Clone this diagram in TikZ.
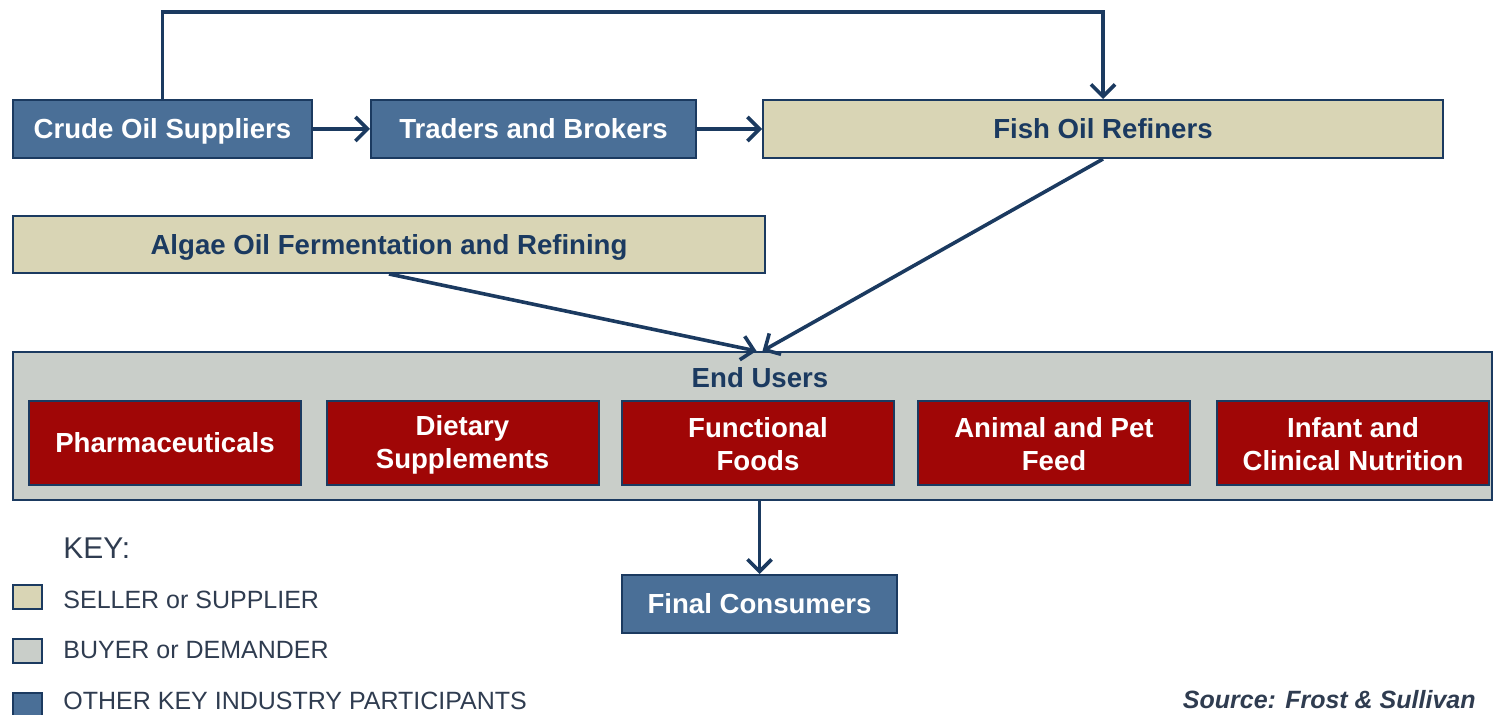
\documentclass[tikz,border=0pt]{standalone}
\usepackage{fontspec}
\setmainfont{Liberation Sans}
\usepackage{tikz}
\usetikzlibrary{arrows.meta}

\definecolor{navy}{HTML}{1B3A60}
\definecolor{steel}{HTML}{4A6F97}
\definecolor{tan}{HTML}{D9D5B5}
\definecolor{greybox}{HTML}{C9CEC9}
\definecolor{wine}{HTML}{A00606}
\definecolor{keytext}{HTML}{2F3C50}

\begin{document}
\begin{tikzpicture}[x=0.5pt,y=-0.5pt]
	\tikzstyle{every node}=[inner sep=0pt, align=center]
	\tikzstyle{box}=[draw=navy, line width=1pt, minimum height=29pt, font=\bfseries\fontsize{13.8}{16.5}\selectfont]
	\tikzstyle{other}=[box, fill=steel, text=white, text height=11.5pt, text depth=1.5pt]
	\tikzstyle{seller}=[box, fill=tan, text=navy, text height=11.5pt, text depth=1.5pt]
	\tikzstyle{user}=[box, fill=wine, text=white, minimum width=136pt, minimum height=42pt]
	\tikzstyle{swatch}=[draw=navy, line width=1pt, minimum width=14.5pt, minimum height=12pt]
	\tikzstyle{keylabel}=[anchor=west, text=keytext, font=\fontsize{12.5}{14}\selectfont]
	\tikzstyle{arr}=[draw=navy, line width=1.8pt, -{Straight Barb[length=6pt,width=12pt]}]
	\useasboundingbox (0,0) rectangle (1495,715);
	% chain on top
	\node (crude) [other, minimum width=149.5pt] at (162.5,129) {Crude Oil Suppliers};
	\node (traders) [other, minimum width=162.5pt] at (533.5,129) {Traders and Brokers};
	\node (fish) [seller, minimum width=340pt] at (1103,129) {Fish Oil Refiners};
	\node (algae) [seller, minimum width=376pt, minimum height=28.5pt] at (389,244.5) {Algae Oil Fermentation and Refining};
	% end users
	\node (endusers) [draw=navy, line width=1pt, fill=greybox, minimum width=739.5pt, minimum height=74pt] at (752.5,426) {};
	\node (eulabel) [text=navy, font=\bfseries\fontsize{13.8}{16.5}\selectfont] at (760,378) {End Users};
	\node (u1) [user] at (165,443) {Pharmaceuticals};
	\node (u2) [user] at (462.5,443) {\strut Dietary\\Supplements};
	\node (u3) [user] at (758,443) {\strut Functional\\Foods};
	\node (u4) [user] at (1054,443) {\strut Animal and Pet\\Feed};
	\node (u5) [user] at (1353,443) {\strut Infant and\\Clinical Nutrition};
	\node (final) [other, minimum width=137.5pt] at (759.5,604) {Final Consumers};
	% arrows
	\draw[arr] (crude.north) -- ++(0,-87) -| (fish.north);
	\draw[arr] (crude) -- (traders);
	\draw[arr] (traders) -- (fish);
	\draw[arr] (algae.south) -- ([xshift=2pt]endusers.north);
	\draw[arr] (fish.south) -- ([xshift=5pt]endusers.north);
	\draw[arr] (endusers.south -| final.north) -- (final.north);
	% key
	\node (key) [keylabel, font=\fontsize{15}{17}\selectfont] at (63,548) {KEY:};
	\node (k1) [swatch, fill=tan] at (27.5,597) {};
	\node (k2) [swatch, fill=greybox] at (27.5,651) {};
	\node (k3) [swatch, fill=steel] at (27.5,705) {};
	\node (k1t) [keylabel] at (63,600) {SELLER or SUPPLIER};
	\node (k2t) [keylabel] at (63,650) {BUYER or DEMANDER};
	\node (k3t) [keylabel] at (63,701) {OTHER KEY INDUSTRY PARTICIPANTS};
	\node (source) [anchor=east, text=keytext, font=\bfseries\itshape\fontsize{12.5}{14}\selectfont] at (1476,700) {Source: Frost \& Sullivan};
\end{tikzpicture}
\end{document}
